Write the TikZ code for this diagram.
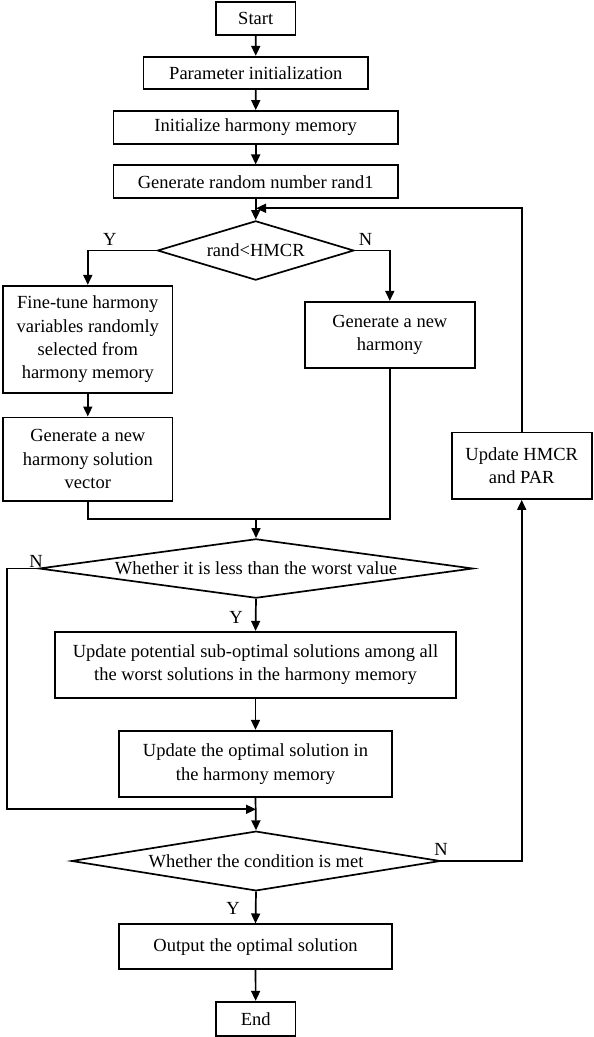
\documentclass[tikz,border=0pt]{standalone}
\usepackage{fontspec}
\setmainfont{Liberation Serif}
\usetikzlibrary{shapes.geometric,arrows.meta}
\begin{document}
\begin{tikzpicture}[x=1pt,y=-1pt,
  every node/.style={font=\fontsize{18.5}{23.3}\selectfont},
  proc/.style={draw,line width=1.7pt,align=center,inner sep=0pt},
  dec/.style={draw,shape=diamond,line width=1.7pt,inner sep=0pt,align=center},
  lbl/.style={inner sep=0pt},
  flow/.style={line width=1.7pt,-{Triangle[length=10pt,width=9pt]}},
  seg/.style={line width=1.7pt}]
\useasboundingbox (0,0) rectangle (594,1037);
\node[proc,minimum width=79.5pt,minimum height=33.3pt] (start) at (255.7,18.3) {Start};
\node[proc,minimum width=224.4pt,minimum height=32.6pt] (param) at (255.8,73) {Parameter initialization};
\node[proc,minimum width=284.5pt,minimum height=32.7pt] (inithm) at (255.7,127.3) {Initialize harmony memory};
\node[proc,minimum width=284.5pt,minimum height=33pt] (genrand) at (255.7,181.8) {Generate random number rand1};
\node[dec,shape aspect=3.3,minimum width=196.4pt,minimum height=59.3pt] (d1) at (255.7,250.5) {rand<HMCR};
\node[proc,minimum width=169.5pt,minimum height=107.6pt] (fine) at (87.8,339.5) {Fine-tune harmony\\variables randomly\\selected from\\harmony memory};
\node[proc,minimum width=170.3pt,minimum height=66.6pt] (gennew) at (389.8,335) {Generate a new\\harmony};
\node[proc,minimum width=169.5pt,minimum height=83.7pt] (gensol) at (87.8,459.2) {Generate a new\\harmony solution\\vector};
\node[proc,minimum width=140pt,minimum height=66.7pt] (upd) at (521.7,465.7) {Update HMCR\\and PAR};
\node[dec,shape aspect=7.3,minimum width=434pt,minimum height=59.3pt] (d2) at (256,568.5) {Whether it is less than the worst value};
\node[proc,minimum width=401.3pt,minimum height=66pt] (pot) at (255.5,664.7) {Update potential sub-optimal solutions among all\\the worst solutions in the harmony memory};
\node[proc,minimum width=273.4pt,minimum height=66.6pt] (opt) at (255.5,764) {Update the optimal solution in\\the harmony memory};
\node[dec,shape aspect=6.2,minimum width=369pt,minimum height=59.7pt] (d3) at (256,861) {Whether the condition is met};
\node[proc,minimum width=273.4pt,minimum height=45pt] (out) at (255.5,946.8) {Output the optimal solution};
\node[proc,minimum width=79.5pt,minimum height=34pt] (end) at (255.7,1018.7) {End};
\coordinate (loopin) at (256,208.3);
\coordinate (m1) at (256,519);
\coordinate (m2) at (256,809.3);
\draw[flow] (start) -- (param);
\draw[flow] (param) -- (inithm);
\draw[flow] (inithm) -- (genrand);
\draw[flow] (genrand.south) -- (d1.north);
\draw[flow] (upd.north) |- (loopin);
\draw[flow] (d1.west) -| (fine.north);
\draw[flow] (d1.east) -| (gennew.north);
\draw[flow] (fine) -- (gensol);
\draw[seg] (gensol.south) |- (m1);
\draw[seg] (gennew.south) |- (m1);
\draw[flow] (m1) -- (d2.north);
\draw[flow] (d2.west) -- (6.9,568.5) |- (m2);
\draw[flow] (d2.south) -- (pot.north);
\draw[flow] (pot) -- (opt);
\draw[flow] (opt.south) -- (d3.north);
\draw[flow] (d3.east) -| (upd.south);
\draw[flow] (d3.south) -- (out.north);
\draw[flow] (out) -- (end);
\node[lbl] (y1) at (109.7,239) {Y};
\node[lbl] (n1) at (365.6,239) {N};
\node[lbl] (n2) at (36,561) {N};
\node[lbl] (y2) at (236,617) {Y};
\node[lbl] (n3) at (441,849) {N};
\node[lbl] (y3) at (233,908) {Y};
\end{tikzpicture}
\end{document}
